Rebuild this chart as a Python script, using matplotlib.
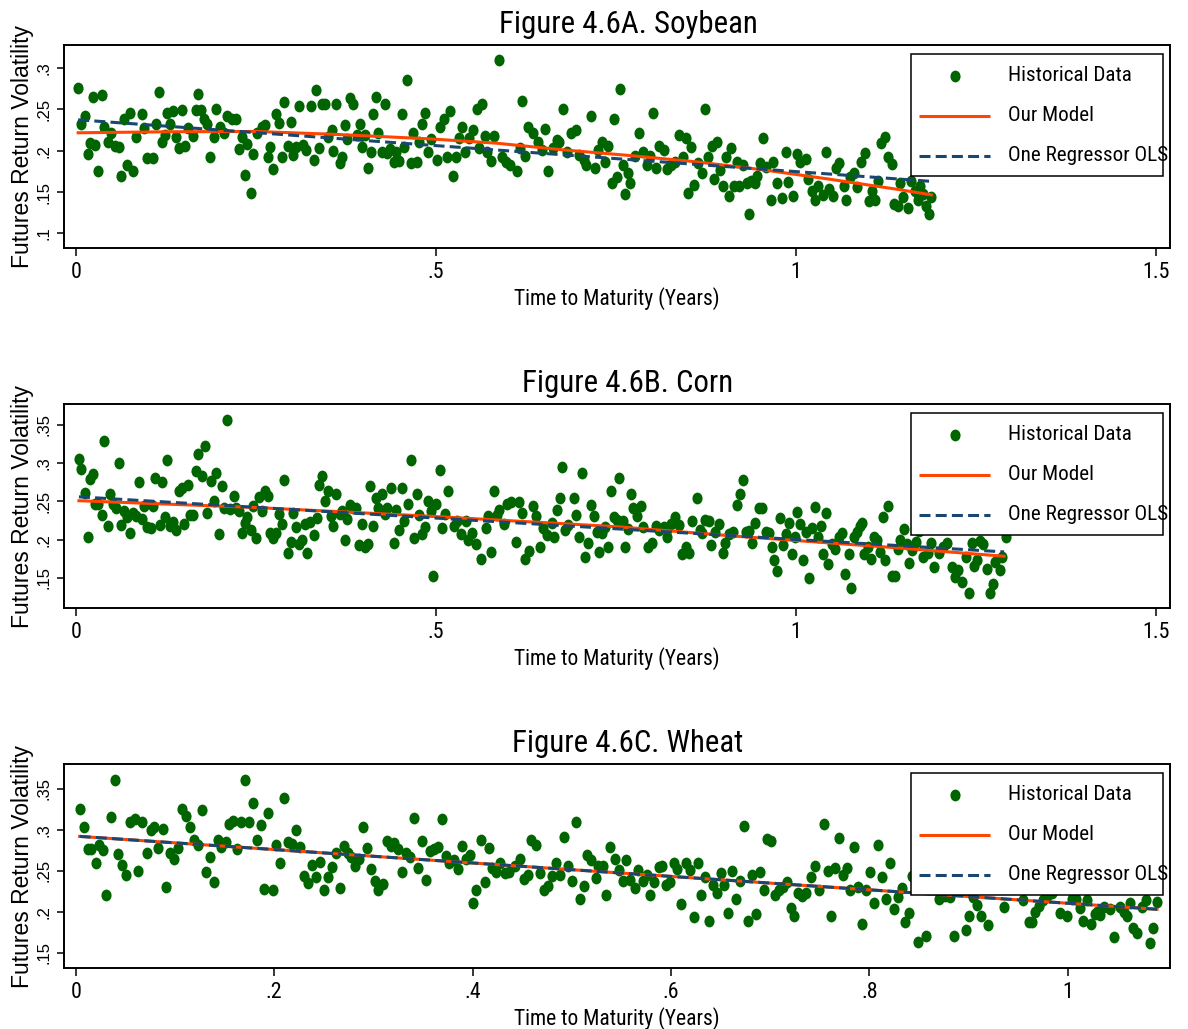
import matplotlib
matplotlib.use("Agg")
import matplotlib.pyplot as plt
from matplotlib import font_manager
from matplotlib.font_manager import FontProperties
from matplotlib.path import Path
from matplotlib.transforms import Affine2D
from matplotlib.patches import Rectangle


def regular_family(names):
    for name in names:
        try:
            font_manager.findfont(FontProperties(family=name), fallback_to_default=False)
            return name
        except Exception:
            continue
    return "DejaVu Sans"


def narrow_file():
    """Pick an installed narrow / condensed sans face (regular weight, upright)."""
    prefs = ["liberation sans narrow", "arial narrow", "roboto condensed",
             "open sans condensed", "noto sans condensed", "dejavu sans"]
    found = {}
    for f in font_manager.fontManager.ttflist:
        name = f.name.lower()
        fname = f.fname.lower()
        is_narrow = ("narrow" in name or "condensed" in name or "narrow" in fname
                     or "condensed" in fname or str(f.stretch) in ("condensed", "semi-condensed"))
        if not is_narrow or f.style != "normal":
            continue
        if f.weight not in (400, "normal", "regular"):
            continue
        for p in prefs:
            if name.startswith(p) and p not in found:
                found[p] = f.fname
    for p in prefs:
        if p in found:
            return found[p]
    return None


REGULAR = regular_family(["Liberation Sans", "Arial", "DejaVu Sans"])
NARROW_PATH = narrow_file()
SCALE = 1.0 if NARROW_PATH else 0.86


def narrow(size):
    if NARROW_PATH:
        return FontProperties(fname=NARROW_PATH, size=size)
    return FontProperties(family=REGULAR, size=size * SCALE)


plt.rcParams["font.family"] = [REGULAR, "DejaVu Sans"]

# ---------------------------------------------------------------- data
# Soybean: time to maturity (years) and futures return volatility
soy_t = [0.003, 0.007, 0.012, 0.016, 0.019, 0.023, 0.027, 0.031, 0.036, 0.039,
         0.044, 0.048, 0.054, 0.059, 0.063, 0.067, 0.071, 0.075, 0.079, 0.083,
         0.091, 0.094, 0.098, 0.107, 0.111, 0.115, 0.119, 0.124, 0.127, 0.131,
         0.135, 0.139, 0.143, 0.147, 0.151, 0.155, 0.162, 0.166, 0.170, 0.174,
         0.178, 0.182, 0.186, 0.191, 0.194, 0.200, 0.205, 0.210, 0.216, 0.222,
         0.226, 0.230, 0.234, 0.238, 0.243, 0.246, 0.251, 0.258, 0.262, 0.266,
         0.270, 0.274, 0.278, 0.282, 0.286, 0.289, 0.294, 0.298, 0.302, 0.306,
         0.310, 0.315, 0.320, 0.326, 0.330, 0.333, 0.338, 0.342, 0.346, 0.350,
         0.355, 0.357, 0.361, 0.366, 0.369, 0.374, 0.377, 0.381, 0.385, 0.390,
         0.394, 0.397, 0.401, 0.405, 0.409, 0.413, 0.417, 0.420, 0.425, 0.429,
         0.432, 0.436, 0.441, 0.445, 0.449, 0.453, 0.456, 0.460, 0.465, 0.468,
         0.473, 0.477, 0.481, 0.485, 0.489, 0.493,
         0.501, 0.505, 0.511, 0.515, 0.520, 0.524, 0.528, 0.532, 0.536, 0.540,
         0.546, 0.552, 0.557, 0.560, 0.564, 0.568, 0.571, 0.576, 0.581, 0.588,
         0.591, 0.597, 0.603, 0.612, 0.616, 0.620, 0.624, 0.628, 0.635, 0.641,
         0.647, 0.651, 0.656, 0.662, 0.668, 0.671, 0.676, 0.682, 0.687, 0.694,
         0.699, 0.705, 0.708, 0.715, 0.721, 0.725, 0.731, 0.735, 0.739, 0.744,
         0.747, 0.751, 0.755, 0.759, 0.763, 0.767, 0.770, 0.776, 0.782, 0.787,
         0.793, 0.797, 0.802, 0.806, 0.810, 0.816, 0.821, 0.827, 0.832, 0.838,
         0.843, 0.847, 0.850, 0.854, 0.858, 0.864, 0.870, 0.874, 0.878, 0.883,
         0.886, 0.890, 0.894, 0.898, 0.903, 0.907, 0.910, 0.914, 0.918, 0.921,
         0.927, 0.932, 0.934, 0.938, 0.943, 0.946, 0.950, 0.954, 0.958, 0.965,
         0.968, 0.974, 0.981, 0.986, 0.989, 0.996, 1.001, 1.006, 1.014, 1.017,
         1.022, 1.026, 1.030, 1.037, 1.042, 1.046, 1.052, 1.056, 1.060, 1.066,
         1.069, 1.075, 1.080, 1.085, 1.090, 1.096, 1.102, 1.105, 1.110, 1.114,
         1.118, 1.124, 1.128, 1.133, 1.136, 1.142, 1.145, 1.149, 1.156, 1.159,
         1.165, 1.169, 1.172, 1.176, 1.181, 1.184, 1.188]
soy_vol = [0.276, 0.233, 0.242, 0.196, 0.210, 0.265, 0.207, 0.176, 0.267, 0.229,
           0.211, 0.221, 0.206, 0.205, 0.170, 0.238, 0.183, 0.246, 0.175, 0.217,
           0.245, 0.227, 0.191, 0.191, 0.233, 0.271, 0.211, 0.219, 0.246, 0.233,
           0.248, 0.217, 0.203, 0.249, 0.206, 0.227, 0.218, 0.249, 0.269, 0.249,
           0.238, 0.233, 0.192, 0.217, 0.250, 0.229, 0.221, 0.242, 0.238, 0.238,
           0.202, 0.217, 0.171, 0.208, 0.149, 0.196, 0.222, 0.229, 0.231, 0.192,
           0.205, 0.178, 0.244, 0.234, 0.192, 0.259, 0.206, 0.235, 0.195, 0.204,
           0.254, 0.207, 0.201, 0.254, 0.189, 0.274, 0.203, 0.257, 0.257, 0.217,
           0.225, 0.200, 0.257, 0.185, 0.193, 0.231, 0.214, 0.264, 0.257, 0.219,
           0.233, 0.204, 0.219, 0.179, 0.199, 0.244, 0.265, 0.222, 0.199, 0.257,
           0.197, 0.202, 0.187, 0.199, 0.188, 0.245, 0.205, 0.286, 0.185, 0.221,
           0.187, 0.211, 0.233, 0.246, 0.198, 0.214,
           0.189, 0.229, 0.239, 0.192, 0.248, 0.170, 0.192, 0.215, 0.229, 0.199,
           0.216, 0.225, 0.250, 0.203, 0.257, 0.218, 0.199, 0.188, 0.218, 0.310,
           0.193, 0.186, 0.183, 0.175, 0.203, 0.260, 0.194, 0.229, 0.221, 0.211,
           0.201, 0.226, 0.175, 0.203, 0.213, 0.211, 0.250, 0.199, 0.221, 0.225,
           0.195, 0.189, 0.183, 0.242, 0.179, 0.201, 0.211, 0.187, 0.206, 0.161,
           0.238, 0.168, 0.275, 0.183, 0.148, 0.173, 0.161, 0.194, 0.222, 0.199,
           0.183, 0.194, 0.246, 0.179, 0.206, 0.201, 0.178, 0.183, 0.187, 0.219,
           0.193, 0.216, 0.149, 0.204, 0.159, 0.185, 0.173, 0.250, 0.192, 0.206,
           0.166, 0.211, 0.177, 0.158, 0.192, 0.145, 0.203, 0.157, 0.186, 0.157,
           0.183, 0.161, 0.124, 0.163, 0.161, 0.169, 0.185, 0.216, 0.181, 0.140,
           0.187, 0.161, 0.143, 0.199, 0.162, 0.145, 0.196, 0.187, 0.190, 0.166,
           0.151, 0.140, 0.157, 0.147, 0.198, 0.154, 0.145, 0.179, 0.185, 0.157,
           0.140, 0.168, 0.173, 0.156, 0.186, 0.197, 0.139, 0.151, 0.140, 0.163,
           0.209, 0.217, 0.193, 0.184, 0.136, 0.133, 0.161, 0.144, 0.131, 0.164,
           0.151, 0.141, 0.157, 0.148, 0.133, 0.124, 0.144]
soy_model_t = [0.003, 0.126, 0.25, 0.357, 0.492, 0.584, 0.677, 0.769, 0.862,
               0.955, 1.047, 1.140, 1.188]
soy_model_v = [0.2218, 0.2230, 0.2234, 0.2200, 0.2144, 0.2092, 0.2011, 0.1943,
               0.1866, 0.1769, 0.1656, 0.1535, 0.1467]
soy_ols_t = [0.003, 1.188]
soy_ols_v = [0.2375, 0.1630]

# Corn
corn_t = [0.004, 0.007, 0.012, 0.016, 0.019, 0.023, 0.027, 0.031, 0.036, 0.039,
          0.044, 0.047, 0.052, 0.056, 0.059, 0.063, 0.067, 0.071, 0.075, 0.079,
          0.083, 0.087, 0.092, 0.095, 0.099, 0.104, 0.107, 0.110, 0.116, 0.119,
          0.123, 0.127, 0.131, 0.135, 0.139, 0.143, 0.147, 0.150, 0.155, 0.158,
          0.162, 0.167, 0.170, 0.175, 0.179, 0.182, 0.187, 0.191, 0.194, 0.198,
          0.203, 0.206, 0.210, 0.214, 0.219, 0.222, 0.226, 0.230, 0.234, 0.238,
          0.243, 0.246, 0.250, 0.254, 0.258, 0.262, 0.267, 0.269, 0.274, 0.278,
          0.282, 0.286, 0.289, 0.294, 0.298, 0.302, 0.306, 0.310, 0.314, 0.318,
          0.321, 0.325, 0.330, 0.334, 0.338, 0.342, 0.346, 0.350, 0.354, 0.357,
          0.361, 0.366, 0.369, 0.374, 0.377, 0.381, 0.385, 0.389, 0.393, 0.397,
          0.401, 0.406, 0.408, 0.413, 0.417, 0.420, 0.425, 0.429, 0.432, 0.437,
          0.441, 0.445, 0.449, 0.453, 0.456, 0.461, 0.465, 0.469, 0.473, 0.477,
          0.481, 0.485, 0.489, 0.493, 0.496, 0.500, 0.505, 0.508, 0.512, 0.517,
          0.525, 0.529, 0.535, 0.541, 0.545, 0.550, 0.556, 0.563, 0.569, 0.572,
          0.576, 0.580, 0.585, 0.588, 0.594, 0.599, 0.604, 0.611, 0.615, 0.619,
          0.624, 0.629, 0.635, 0.639, 0.644, 0.648, 0.654, 0.661, 0.664, 0.668,
          0.672, 0.675, 0.679, 0.683, 0.691, 0.695, 0.699, 0.703, 0.707, 0.711,
          0.715, 0.719, 0.723, 0.727, 0.731, 0.735, 0.739, 0.743, 0.747, 0.751,
          0.754, 0.759, 0.763, 0.766, 0.771, 0.774, 0.779, 0.784, 0.788, 0.795,
          0.800, 0.805, 0.810, 0.816, 0.821, 0.827, 0.832, 0.837, 0.841, 0.847,
          0.851, 0.856, 0.863, 0.866, 0.870, 0.874, 0.879, 0.882, 0.888, 0.893,
          0.898, 0.902, 0.907, 0.912, 0.918, 0.922, 0.926, 0.930, 0.934, 0.939,
          0.943, 0.948, 0.953, 0.958, 0.962, 0.966, 0.970, 0.973, 0.978, 0.982,
          0.986, 0.990, 0.994, 0.998, 1.002, 1.006, 1.010, 1.014, 1.018, 1.022,
          1.026, 1.030, 1.034, 1.038, 1.042, 1.045, 1.050, 1.054, 1.059, 1.064,
          1.068, 1.073, 1.076, 1.081, 1.085, 1.089, 1.092, 1.095, 1.100, 1.104,
          1.108, 1.112, 1.117, 1.121, 1.124, 1.128, 1.133, 1.137, 1.141, 1.145,
          1.150, 1.154, 1.157, 1.161, 1.167, 1.171, 1.176, 1.183, 1.188, 1.192,
          1.198, 1.204, 1.209, 1.217, 1.221, 1.225, 1.230, 1.236, 1.240, 1.244,
          1.247, 1.251, 1.256, 1.260, 1.265, 1.269, 1.273, 1.277, 1.283, 1.286,
          1.292]
corn_vol = [0.305, 0.293, 0.261, 0.204, 0.279, 0.286, 0.247, 0.247, 0.232, 0.329,
            0.218, 0.260, 0.247, 0.241, 0.300, 0.219, 0.237, 0.230, 0.209, 0.235,
            0.231, 0.276, 0.227, 0.244, 0.217, 0.215, 0.244, 0.280, 0.219, 0.276,
            0.230, 0.304, 0.218, 0.223, 0.213, 0.264, 0.267, 0.221, 0.271, 0.232,
            0.232, 0.290, 0.312, 0.283, 0.323, 0.235, 0.277, 0.250, 0.287, 0.207,
            0.270, 0.242, 0.356, 0.240, 0.257, 0.242, 0.237, 0.209, 0.222, 0.230,
            0.213, 0.244, 0.202, 0.256, 0.238, 0.263, 0.257, 0.209, 0.202, 0.209,
            0.233, 0.220, 0.278, 0.182, 0.197, 0.235, 0.217, 0.194, 0.199, 0.220,
            0.182, 0.223, 0.206, 0.228, 0.271, 0.283, 0.251, 0.263, 0.231, 0.218,
            0.260, 0.234, 0.237, 0.200, 0.227, 0.245, 0.242, 0.242, 0.193, 0.220,
            0.191, 0.194, 0.270, 0.218, 0.254, 0.242, 0.260, 0.233, 0.242, 0.267,
            0.195, 0.239, 0.213, 0.267, 0.225, 0.247, 0.304, 0.202, 0.260, 0.232,
            0.208, 0.217, 0.250, 0.238, 0.153, 0.247, 0.291, 0.215, 0.233, 0.263,
            0.218, 0.225, 0.208, 0.225, 0.200, 0.209, 0.194, 0.175, 0.215, 0.231,
            0.184, 0.263, 0.232, 0.239, 0.220, 0.247, 0.249, 0.197, 0.249, 0.235,
            0.175, 0.185, 0.244, 0.231, 0.190, 0.215, 0.206, 0.222, 0.204, 0.239,
            0.255, 0.295, 0.213, 0.219, 0.255, 0.232, 0.204, 0.287, 0.177, 0.196,
            0.245, 0.231, 0.210, 0.184, 0.209, 0.217, 0.191, 0.264, 0.230, 0.226,
            0.280, 0.225, 0.191, 0.214, 0.260, 0.241, 0.231, 0.244, 0.217, 0.191,
            0.195, 0.218, 0.213, 0.216, 0.203, 0.221, 0.230, 0.219, 0.181, 0.191,
            0.183, 0.225, 0.254, 0.212, 0.209, 0.226, 0.225, 0.193, 0.210, 0.220,
            0.182, 0.196, 0.208, 0.210, 0.245, 0.260, 0.278, 0.210, 0.211, 0.196,
            0.222, 0.241, 0.242, 0.210, 0.209, 0.190, 0.174, 0.159, 0.228, 0.193,
            0.208, 0.222, 0.181, 0.204, 0.236, 0.220, 0.173, 0.210, 0.150, 0.215,
            0.243, 0.204, 0.218, 0.181, 0.235, 0.168, 0.194, 0.188, 0.203, 0.209,
            0.155, 0.181, 0.137, 0.203, 0.210, 0.218, 0.222, 0.181, 0.190, 0.175,
            0.204, 0.200, 0.184, 0.229, 0.174, 0.244, 0.152, 0.152, 0.188, 0.199,
            0.214, 0.194, 0.170, 0.187, 0.197, 0.211, 0.177, 0.182, 0.195, 0.164,
            0.183, 0.191, 0.195, 0.164, 0.151, 0.160, 0.145, 0.177, 0.130, 0.195,
            0.165, 0.173, 0.198, 0.194, 0.161, 0.130, 0.142, 0.171, 0.160, 0.177,
            0.204]
corn_model_t = [0.004, 0.25, 0.49, 0.75, 0.917, 1.13, 1.289]
corn_model_v = [0.2509, 0.2420, 0.2307, 0.2170, 0.2045, 0.1900, 0.1783]
corn_ols_t = [0.004, 1.289]
corn_ols_v = [0.2560, 0.1840]

# Wheat
wheat_t = [0.004, 0.008, 0.012, 0.015, 0.020, 0.023, 0.028, 0.031, 0.036, 0.040,
           0.043, 0.047, 0.051, 0.055, 0.060, 0.063, 0.067, 0.072, 0.076, 0.079,
           0.083, 0.088, 0.091, 0.095, 0.099, 0.103, 0.107, 0.111, 0.115, 0.119,
           0.123, 0.127, 0.131, 0.135, 0.139, 0.143, 0.146, 0.151, 0.155, 0.159,
           0.163, 0.167, 0.171, 0.175, 0.179, 0.183, 0.187, 0.190, 0.194, 0.199,
           0.202, 0.206, 0.210, 0.214, 0.218, 0.222, 0.226, 0.230, 0.234, 0.238,
           0.242, 0.246, 0.250, 0.254, 0.258, 0.262, 0.266, 0.270, 0.274, 0.278,
           0.282, 0.286, 0.290, 0.294, 0.298, 0.302, 0.305, 0.310, 0.314, 0.318,
           0.321, 0.325, 0.329, 0.333, 0.337, 0.341, 0.345, 0.349, 0.353, 0.357,
           0.361, 0.365, 0.369, 0.373, 0.376,
           0.381, 0.385, 0.389, 0.393, 0.397, 0.400, 0.404, 0.409, 0.413, 0.417,
           0.420, 0.424, 0.428, 0.433, 0.437, 0.443, 0.448, 0.452, 0.456, 0.459,
           0.464, 0.468, 0.472, 0.476, 0.480, 0.484, 0.488, 0.492, 0.496, 0.500,
           0.504, 0.508, 0.512, 0.515, 0.519, 0.524, 0.527, 0.532, 0.535, 0.539,
           0.544, 0.548, 0.552, 0.555, 0.559, 0.564, 0.567, 0.572, 0.576, 0.579,
           0.583, 0.588, 0.591, 0.595, 0.599, 0.603, 0.606, 0.610, 0.615, 0.619,
           0.623, 0.627, 0.630, 0.634, 0.638, 0.642, 0.646, 0.650, 0.654, 0.658,
           0.662, 0.666, 0.670, 0.674, 0.678, 0.682, 0.686, 0.690, 0.694, 0.697,
           0.701, 0.705, 0.709, 0.713, 0.717, 0.721, 0.724, 0.728, 0.732, 0.736,
           0.741, 0.745, 0.749, 0.754, 0.758, 0.761, 0.765, 0.769, 0.773, 0.777,
           0.781, 0.785, 0.789, 0.793, 0.797, 0.801, 0.805, 0.809, 0.813, 0.817,
           0.821, 0.825, 0.829, 0.833, 0.836, 0.840, 0.843, 0.849, 0.857, 0.870,
           0.876, 0.881, 0.885, 0.897, 0.900, 0.905, 0.909, 0.913, 0.920, 0.936,
           0.955, 0.961, 0.964, 0.967, 0.971, 0.975, 0.979, 0.984, 0.992, 0.999,
           1.004, 1.008, 1.012, 1.015, 1.019, 1.023, 1.027, 1.030, 1.033, 1.037,
           1.043, 1.047, 1.053, 1.057, 1.060, 1.063, 1.066, 1.070, 1.075, 1.079,
           1.083, 1.086, 1.090]
wheat_vol = [0.325, 0.304, 0.276, 0.276, 0.259, 0.282, 0.275, 0.220, 0.316, 0.361,
             0.271, 0.257, 0.245, 0.310, 0.313, 0.250, 0.309, 0.272, 0.300, 0.304,
             0.278, 0.301, 0.230, 0.272, 0.265, 0.278, 0.326, 0.317, 0.303, 0.287,
             0.282, 0.324, 0.248, 0.267, 0.236, 0.287, 0.279, 0.285, 0.307, 0.311,
             0.276, 0.310, 0.361, 0.310, 0.333, 0.287, 0.306, 0.228, 0.320, 0.226,
             0.282, 0.260, 0.339, 0.285, 0.283, 0.300, 0.279, 0.244, 0.235, 0.257,
             0.242, 0.261, 0.226, 0.242, 0.255, 0.272, 0.229, 0.280, 0.272, 0.267,
             0.256, 0.265, 0.304, 0.278, 0.252, 0.237, 0.227, 0.234, 0.286, 0.280,
             0.284, 0.276, 0.249, 0.272, 0.267, 0.314, 0.254, 0.286, 0.239, 0.274,
             0.276, 0.279, 0.313, 0.268, 0.259,
             0.263, 0.252, 0.280, 0.265, 0.269, 0.211, 0.226, 0.288, 0.236, 0.278,
             0.253, 0.248, 0.259, 0.247, 0.249, 0.256, 0.264, 0.240, 0.245, 0.287,
             0.282, 0.247, 0.226, 0.231, 0.244, 0.259, 0.245, 0.291, 0.256, 0.238,
             0.310, 0.215, 0.232, 0.269, 0.263, 0.241, 0.256, 0.256, 0.221, 0.279,
             0.264, 0.251, 0.238, 0.263, 0.239, 0.229, 0.251, 0.238, 0.245, 0.221,
             0.236, 0.255, 0.256, 0.233, 0.236, 0.259, 0.252, 0.209, 0.259, 0.251,
             0.194, 0.259, 0.221, 0.243, 0.189, 0.233, 0.223, 0.247, 0.233, 0.199,
             0.250, 0.215, 0.237, 0.305, 0.189, 0.245, 0.197, 0.248, 0.226, 0.289,
             0.286, 0.221, 0.227, 0.230, 0.236, 0.204, 0.195, 0.223, 0.219, 0.223,
             0.243, 0.256, 0.226, 0.307, 0.250, 0.195, 0.254, 0.290, 0.245, 0.253,
             0.227, 0.279, 0.230, 0.185, 0.227, 0.248, 0.211, 0.282, 0.242, 0.215,
             0.260, 0.203, 0.218, 0.229, 0.187, 0.198, 0.244, 0.163, 0.170, 0.216,
             0.219, 0.218, 0.170, 0.178, 0.195, 0.218, 0.208, 0.195, 0.184, 0.206,
             0.214, 0.188, 0.187, 0.200, 0.207, 0.214, 0.219, 0.223, 0.199, 0.195,
             0.216, 0.215, 0.205, 0.189, 0.214, 0.185, 0.197, 0.200, 0.196, 0.206,
             0.203, 0.169, 0.206, 0.200, 0.195, 0.211, 0.180, 0.174, 0.206, 0.214,
             0.162, 0.180, 0.212]
wheat_model_t = [0.004, 1.090]
wheat_model_v = [0.2920, 0.2030]
wheat_ols_t = [0.004, 1.090]
wheat_ols_v = [0.2920, 0.2030]

titles = ["Figure 4.6A. Soybean", "Figure 4.6B. Corn", "Figure 4.6C. Wheat"]
legend_labels = ["Historical Data", "Our Model", "One Regressor OLS"]
x_label = "Time to Maturity (Years)"
y_label = "Futures Return Volatility"

# ---------------------------------------------------------------- style
GREEN = "#006400"
ORANGE = "#FF4500"
NAVY = "#1A476F"
DASH = (0, (3.6, 1.7))

# slightly tall elliptical dot
DOT = Path.unit_circle().transformed(Affine2D().scale(0.86, 1.0))
DOT_SIZE = 8.5

W, H = 1188, 1029
fig = plt.figure(figsize=(W / 100, H / 100), dpi=100)


def frame(left, top, right, bottom):
    return [left / W, 1 - bottom / H, (right - left) / W, (bottom - top) / H]


panels = [
    dict(box=(64, 45, 1170, 248), t=soy_t, v=soy_vol,
         mt=soy_model_t, mv=soy_model_v, ot=soy_ols_t, ov=soy_ols_v,
         xlim=(-0.0167, 1.5194), ylim=(0.0824, 0.328),
         xticks=[0, 0.5, 1, 1.5], xtl=["0", ".5", "1", "1.5"],
         yticks=[0.1, 0.15, 0.2, 0.25, 0.3], ytl=[".1", ".15", ".2", ".25", ".3"]),
    dict(box=(64, 404.3, 1170, 607.7), t=corn_t, v=corn_vol,
         mt=corn_model_t, mv=corn_model_v, ot=corn_ols_t, ov=corn_ols_v,
         xlim=(-0.0167, 1.5194), ylim=(0.111, 0.377),
         xticks=[0, 0.5, 1, 1.5], xtl=["0", ".5", "1", "1.5"],
         yticks=[0.15, 0.2, 0.25, 0.3, 0.35], ytl=[".15", ".2", ".25", ".3", ".35"]),
    dict(box=(64, 764.3, 1170, 967.7), t=wheat_t, v=wheat_vol,
         mt=wheat_model_t, mv=wheat_model_v, ot=wheat_ols_t, ov=wheat_ols_v,
         xlim=(-0.0118, 1.1031), ylim=(0.1317, 0.380),
         xticks=[0, 0.2, 0.4, 0.6, 0.8, 1.0], xtl=["0", ".2", ".4", ".6", ".8", "1"],
         yticks=[0.15, 0.2, 0.25, 0.3, 0.35], ytl=[".15", ".2", ".25", ".3", ".35"]),
]


def add_key(ax, box):
    left, top, right, bottom = box
    pw, ph = right - left, bottom - top

    def ax_xy(px, dy):
        return (px - left) / pw, 1 - dy / ph

    x0, y1 = ax_xy(911, 8.7)
    x1, y0 = ax_xy(1163, 130.7)
    ax.add_patch(Rectangle((x0, y0), x1 - x0, y1 - y0, transform=ax.transAxes,
                           facecolor="white", edgecolor="black", linewidth=1.1,
                           zorder=5, clip_on=False))
    rows = [30.5, 70.5, 110.5]
    mx, _ = ax_xy(955, 0)
    lx0, _ = ax_xy(919, 0)
    lx1, _ = ax_xy(990, 0)
    tx, _ = ax_xy(1008, 0)
    ry = [ax_xy(0, r)[1] for r in rows]
    ax.plot([mx], [ry[0]], transform=ax.transAxes, marker=DOT, markersize=DOT_SIZE,
            color=GREEN, markeredgewidth=0, linestyle="none", zorder=6, clip_on=False)
    ax.plot([lx0, lx1], [ry[1], ry[1]], transform=ax.transAxes, color=ORANGE,
            linewidth=2.2, zorder=6, clip_on=False, solid_capstyle="butt")
    ax.plot([lx0, lx1], [ry[2], ry[2]], transform=ax.transAxes, color=NAVY,
            linewidth=2.2, linestyle=DASH, zorder=6, clip_on=False)
    for lab, y in zip(legend_labels, ry):
        ax.text(tx, y, lab, transform=ax.transAxes, va="center", ha="left",
                fontproperties=narrow(15.2), color="black", zorder=7, clip_on=False)


for p, title in zip(panels, titles):
    left, top, right, bottom = p["box"]
    ph = bottom - top
    ax = fig.add_axes(frame(*p["box"]))
    ax.plot(p["t"], p["v"], linestyle="none", marker=DOT, markersize=DOT_SIZE,
            color=GREEN, markeredgewidth=0, zorder=2)
    ax.plot(p["mt"], p["mv"], color=ORANGE, linewidth=2.2, zorder=3)
    ax.plot(p["ot"], p["ov"], color=NAVY, linewidth=2.2, linestyle=DASH, zorder=4)

    ax.set_xlim(*p["xlim"])
    ax.set_ylim(*p["ylim"])
    ax.set_xticks(p["xticks"], labels=p["xtl"])
    ax.set_yticks(p["yticks"], labels=p["ytl"])
    for sp in ax.spines.values():
        sp.set_linewidth(1.4)
        sp.set_color("black")
    ax.tick_params(axis="x", direction="out", length=5.8, width=1.1, pad=4.5,
                   colors="black")
    ax.tick_params(axis="y", direction="out", length=5.2, width=1.1, pad=4.0,
                   labelsize=12, labelrotation=90, labelfontfamily=REGULAR,
                   colors="black")
    for lbl in ax.get_xticklabels():
        lbl.set_fontproperties(narrow(15.8))
    for lbl in ax.get_yticklabels():
        lbl.set_verticalalignment("center")

    ax.set_xlabel(x_label, fontproperties=narrow(15.5), va="baseline")
    ax.xaxis.set_label_coords(0.5, -57.0 / ph)
    ax.set_ylabel(y_label, fontsize=16.5, family=REGULAR)
    ax.yaxis.set_label_coords(-0.0269, 0.5)
    ax.set_title(title, fontproperties=narrow(22.2), pad=0, y=1 + 12.0 / ph, x=0.51)

    add_key(ax, p["box"])

fig.savefig("out.png", dpi=100, facecolor="white")
